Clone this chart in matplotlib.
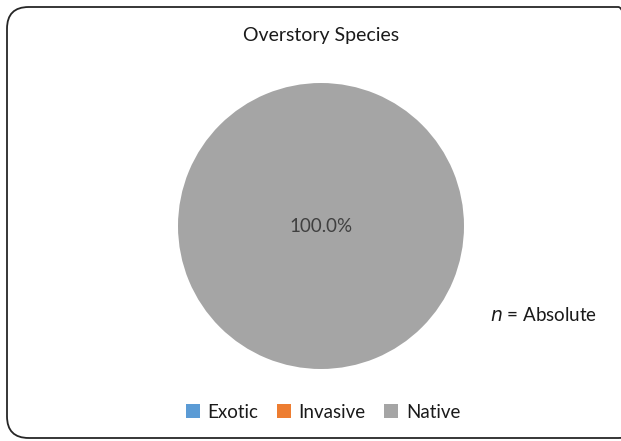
import matplotlib
matplotlib.use("Agg")
import matplotlib.pyplot as plt
from matplotlib.patches import FancyBboxPatch, Patch

categories = ["Exotic", "Invasive", "Native"]
percent = [0.0, 0.0, 100.0]
colors = ["#5B9BD5", "#ED7D31", "#A5A5A5"]
title = "Overstory Species"
note = "Absolute"

plt.rcParams['font.family'] = ['Lato', 'DejaVu Sans']

fig = plt.figure(figsize=(6.21, 4.41), dpi=100)
W, H = 621, 441

# rounded chart-area frame
frame = FancyBboxPatch((7 / W, 3 / H), (640 - 7) / W, (434 - 3) / H,
                       boxstyle="round,pad=0,rounding_size=0.035",
                       transform=fig.transFigure, fill=False,
                       edgecolor="#262626", linewidth=1.3,
                       mutation_aspect=W / H)
fig.patches.append(frame)

ax = fig.add_axes([(321 - 143) / W, 1 - (226 + 143) / H, 286 / W, 286 / H])
wedges, texts, autotexts = ax.pie(
    percent, colors=colors, startangle=90, counterclock=False,
    autopct=lambda p: f"{p:.1f}%" if p > 0 else "",
    pctdistance=0.0, textprops=dict(fontsize=13.5, color="#404040"),
    wedgeprops=dict(linewidth=0))
ax.set_xlim(-1, 1)
ax.set_ylim(-1, 1)
ax.set_aspect("equal")

fig.text(321 / W, 1 - 35 / H, title, ha="center", va="center",
         fontsize=14, color="#1a1a1a")

fig.text(490 / W, 1 - 315 / H, r"$n$ = " + note, ha="left", va="center",
         fontsize=13.5, color="#1a1a1a")

handles = [Patch(facecolor=c, edgecolor="none") for c in colors]
fig.legend(handles, categories, loc="center", bbox_to_anchor=(323 / W, 1 - 412 / H),
           ncol=3, frameon=False, fontsize=13.5, handlelength=0.75,
           handleheight=0.75, handletextpad=0.4, columnspacing=1.0,
           labelcolor="#1a1a1a")

fig.savefig("out.png", dpi=100)
